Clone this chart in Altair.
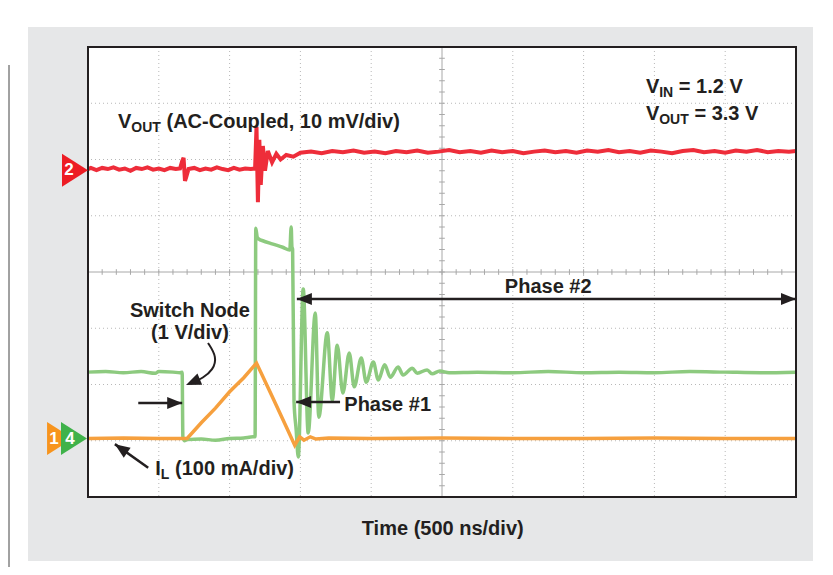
import altair as alt
import pandas as pd

# ---------------- trace data (time in divisions, amplitude in divisions) ----------------
red = [(0.00, 5.83), (0.04, 5.85), (0.12, 5.81), (0.20, 5.85), (0.28, 5.83), (0.36, 5.86),
       (0.44, 5.82), (0.52, 5.84), (0.60, 5.80), (0.68, 5.85), (0.76, 5.83), (0.84, 5.86),
       (0.92, 5.82), (1.00, 5.84), (1.08, 5.81), (1.16, 5.85), (1.24, 5.83), (1.30, 5.84),
       (1.33, 5.97), (1.35, 6.03), (1.37, 5.62), (1.39, 5.70), (1.42, 5.83), (1.50, 5.85),
       (1.58, 5.81), (1.66, 5.84), (1.74, 5.82), (1.82, 5.86), (1.90, 5.83), (1.98, 5.81),
       (2.06, 5.85), (2.14, 5.82), (2.22, 5.84), (2.30, 5.83), (2.36, 5.84), (2.38, 6.58),
       (2.40, 5.24), (2.42, 6.35), (2.44, 5.55), (2.47, 6.24), (2.50, 5.80), (2.54, 6.15),
       (2.60, 5.95), (2.66, 6.10), (2.72, 6.00), (2.80, 6.08), (2.90, 6.05), (3.00, 6.12),
       (3.15, 6.14), (3.30, 6.11), (3.45, 6.15), (3.60, 6.13), (3.75, 6.16), (3.90, 6.12),
       (4.05, 6.14), (4.20, 6.11), (4.35, 6.15), (4.50, 6.13), (4.65, 6.16), (4.80, 6.12),
       (4.95, 6.14), (5.10, 6.17), (5.25, 6.13), (5.40, 6.15), (5.55, 6.12), (5.70, 6.16),
       (5.85, 6.13), (6.00, 6.15), (6.15, 6.11), (6.30, 6.14), (6.45, 6.16), (6.60, 6.13),
       (6.75, 6.15), (6.90, 6.12), (7.05, 6.16), (7.20, 6.14), (7.35, 6.17), (7.50, 6.13),
       (7.65, 6.15), (7.80, 6.12), (7.95, 6.16), (8.10, 6.14), (8.25, 6.11), (8.40, 6.15),
       (8.55, 6.17), (8.70, 6.13), (8.85, 6.15), (9.00, 6.12), (9.15, 6.16), (9.30, 6.14),
       (9.45, 6.17), (9.60, 6.13), (9.75, 6.15), (9.90, 6.14), (10.0, 6.15)]

green = [(0.00, 2.22), (0.25, 2.23), (0.50, 2.21), (0.75, 2.23), (0.95, 2.20), (1.00, 2.23),
         (1.20, 2.22), (1.30, 2.21), (1.33, 2.22), (1.34, 1.07), (1.36, 1.00), (1.40, 1.02),
         (1.60, 1.03), (1.80, 1.01), (2.00, 1.04), (2.20, 1.05), (2.33, 1.07), (2.36, 1.07),
         (2.37, 4.78), (2.39, 4.62), (2.42, 4.58), (2.46, 4.56), (2.60, 4.50), (2.75, 4.44),
         (2.85, 4.39), (2.87, 4.80), (2.88, 4.45), (2.89, 4.40), (2.91, 1.70), (2.94, 1.20),
         (2.97, 0.71), (3.04, 3.70), (3.11, 1.14), (3.21, 3.27), (3.26, 1.42), (3.38, 2.92),
         (3.45, 1.72), (3.52, 2.70), (3.60, 1.85), (3.69, 2.56), (3.76, 1.96), (3.86, 2.47),
         (3.93, 2.04), (4.03, 2.40), (4.10, 2.08), (4.19, 2.35), (4.27, 2.13), (4.38, 2.31),
         (4.45, 2.17), (4.58, 2.29), (4.65, 2.20), (4.79, 2.26), (4.86, 2.19), (4.97, 2.24),
         (5.10, 2.21), (5.50, 2.22), (6.00, 2.21), (6.50, 2.23), (7.00, 2.21), (7.50, 2.22),
         (8.00, 2.21), (8.50, 2.23), (9.00, 2.22), (9.50, 2.21), (10.0, 2.22)]

orange = [(0.00, 1.04), (0.50, 1.05), (1.00, 1.04), (1.40, 1.04), (1.60, 1.32), (1.80, 1.58),
          (2.00, 1.87), (2.20, 2.12), (2.38, 2.38), (2.60, 1.79), (2.80, 1.25), (2.92, 0.92),
          (2.99, 1.07), (3.05, 1.01), (3.14, 1.07), (3.22, 1.03), (3.40, 1.05), (4.00, 1.04),
          (5.00, 1.05), (6.00, 1.04), (7.00, 1.04), (8.00, 1.05), (9.00, 1.04), (10.0, 1.04)]

# channel markers: (label, time position, level)
markers = [("1", -0.395, 1.04, "#f7941d"), ("4", -0.198, 1.04, "#3fb24a"), ("2", -0.184, 5.81, "#ed1c24")]
marker_labels = [("1", -0.48, 1.04), ("4", -0.254, 1.04), ("2", -0.268, 5.81)]

# grid
grid_x = [1, 2, 3, 4, 6, 7, 8, 9]
grid_y = [1, 2, 3, 5, 6, 7]

# arrows: (t1, v1, t2 tip, v2 tip)
straight_arrows = [(3.56, 1.69, 2.94, 1.69), (0.71, 1.67, 1.33, 1.67), (0.85, 0.52, 0.38, 0.94)]
double_arrow = (2.95, 10.0, 3.52)
curve_arrow = [(1.695, 2.738), (1.822, 2.489), (1.766, 2.258), (1.624, 2.116), (1.469, 2.027)]
heads = [(2.94, 1.69, 180), (1.33, 1.67, 0), (0.38, 0.94, 215), (2.95, 3.52, 180),
         (10.0, 3.52, 0), (1.384, 1.991, 157)]

INK = "#231f20"
FONT = "Liberation Sans"
XS = alt.Scale(domain=[0, 10], nice=False, zero=False)
YS = alt.Scale(domain=[0, 8], nice=False, zero=False)


def X(f="t"):
    return alt.X(f"{f}:Q", scale=XS, axis=None)


def Y(f="v"):
    return alt.Y(f"{f}:Q", scale=YS, axis=None)


one = pd.DataFrame({"a": [0]})

bg = alt.Chart(one).mark_rect(color="#e6e7e8").encode(
    x=alt.value(-60), x2=alt.value(725), y=alt.value(-20), y2=alt.value(514))
leftline = alt.Chart(one).mark_rule(color="#444444", strokeWidth=1).encode(
    x=alt.value(-79), y=alt.value(18), y2=alt.value(530))
plotbg = alt.Chart(one).mark_rect(color="white").encode(
    x=alt.value(0), x2=alt.value(708), y=alt.value(0), y2=alt.value(450))

gx = alt.Chart(pd.DataFrame({"t": grid_x})).mark_rule(
    color="#b8b8b8", strokeDash=[1, 3], strokeWidth=1).encode(x=X())
gy = alt.Chart(pd.DataFrame({"v": grid_y})).mark_rule(
    color="#b8b8b8", strokeDash=[1, 3], strokeWidth=1).encode(y=Y())
cx = alt.Chart(pd.DataFrame({"t": [5]})).mark_rule(color="#a8a8a8", strokeWidth=1).encode(x=X())
cy = alt.Chart(pd.DataFrame({"v": [4]})).mark_rule(color="#a8a8a8", strokeWidth=1).encode(y=Y())
tick_t = [i / 5 for i in range(1, 50)]
tick_v = [i / 5 for i in range(1, 40)]
tx = alt.Chart(pd.DataFrame({"t": tick_t, "v": [3.95] * len(tick_t), "v2": [4.05] * len(tick_t)})).mark_rule(
    color="#a8a8a8", strokeWidth=1).encode(x=X(), y=Y(), y2="v2:Q")
ty = alt.Chart(pd.DataFrame({"v": tick_v, "t": [4.96] * len(tick_v), "t2": [5.04] * len(tick_v)})).mark_rule(
    color="#a8a8a8", strokeWidth=1).encode(y=Y(), x=X(), x2="t2:Q")


def trace(pts, color, width, interp="linear"):
    df = pd.DataFrame({"t": [p[0] for p in pts], "v": [p[1] for p in pts], "i": range(len(pts))})
    return alt.Chart(df).mark_line(color=color, strokeWidth=width, interpolate=interp).encode(
        x=X(), y=Y(), order="i:Q")


tr_green = trace(green, "#8dca7f", 3.5, "monotone")
tr_orange = trace(orange, "#f6a03e", 3.5)
tr_red = trace(red, "#ee2d3a", 4)

frame = alt.Chart(one).mark_rect(filled=False, stroke=INK, strokeWidth=2).encode(
    x=alt.value(0), x2=alt.value(708), y=alt.value(0), y2=alt.value(450))

TRI = "M-1,-1.27L1,0L-1,1.27Z"
mk = alt.Chart(pd.DataFrame({"c": [m[0] for m in markers], "t": [m[1] for m in markers],
                             "v": [m[2] for m in markers], "col": [m[3] for m in markers],
                             "i": range(len(markers))})).mark_point(
    shape=TRI, size=676, filled=True, opacity=1, strokeWidth=0).encode(
    x=X(), y=Y(), color=alt.Color("col:N", scale=None), order="i:Q")
mk_text = alt.Chart(pd.DataFrame({"c": [m[0] for m in marker_labels], "t": [m[1] for m in marker_labels],
                                  "v": [m[2] for m in marker_labels]})).mark_text(
    font=FONT, fontWeight="bold", fontSize=17, color="white", baseline="middle", align="center").encode(
    x=X(), y=Y(), text="c:N")

arr_df = pd.DataFrame({"t": [a[0] for a in straight_arrows], "v": [a[1] for a in straight_arrows],
                       "t2": [a[2] for a in straight_arrows], "v2": [a[3] for a in straight_arrows]})
arrows = alt.Chart(arr_df).mark_rule(color=INK, strokeWidth=2.5).encode(
    x=X(), y=Y(), x2="t2:Q", y2="v2:Q")
darrow = alt.Chart(pd.DataFrame({"t": [double_arrow[0]], "t2": [double_arrow[1]], "v": [double_arrow[2]]})).mark_rule(
    color=INK, strokeWidth=2.5).encode(x=X(), x2="t2:Q", y=Y())
curve = alt.Chart(pd.DataFrame({"t": [p[0] for p in curve_arrow], "v": [p[1] for p in curve_arrow],
                                "i": range(len(curve_arrow))})).mark_line(
    color=INK, strokeWidth=2, interpolate="basis").encode(x=X(), y=Y(), order="i:Q")
HEAD = "M0,0L-2,-0.8L-2,0.8Z"
hd = alt.Chart(pd.DataFrame({"t": [h[0] for h in heads], "v": [h[1] for h in heads],
                             "a": [h[2] for h in heads]})).mark_point(
    shape=HEAD, size=225, filled=True, opacity=1, color=INK, strokeWidth=0).encode(
    x=X(), y=Y(), angle=alt.Angle("a:Q", scale=None))


def label(t, v, txt, size, align="left", dx=0, dy=0):
    return alt.Chart(pd.DataFrame({"t": [t], "v": [v], "s": [txt]})).mark_text(
        font=FONT, fontWeight="bold", fontSize=size, align=align, baseline="alphabetic",
        dx=dx, dy=dy, color=INK).encode(x=X(), y=Y(), text="s:N")


texts = [
    label(0.424, 6.56, "V", 20), label(0.424, 6.56, "OUT", 14, dx=13.3, dy=4),
    label(0.424, 6.56, "(AC-Coupled, 10 mV/div)", 20, dx=48.5),
    label(7.88, 7.18, "V", 20), label(7.88, 7.18, "IN", 14, dx=13.3, dy=4),
    label(7.88, 7.18, "= 1.2 V", 20, dx=32.9),
    label(7.88, 6.70, "V", 20), label(7.88, 6.70, "OUT", 14, dx=13.3, dy=4),
    label(7.88, 6.70, "= 3.3 V", 20, dx=48.5),
    label(6.50, 3.63, "Phase #2", 20, align="center"),
    label(1.44, 3.20, "Switch Node", 20, align="center"),
    label(1.44, 2.81, "(1 V/div)", 20, align="center"),
    label(3.62, 1.53, "Phase #1", 20),
    label(0.95, 0.39, "I", 20), label(0.95, 0.39, "L", 14, dx=5.6, dy=4),
    label(0.95, 0.39, "(100 mA/div)", 20, dx=19.8),
    label(5.01, -0.676, "Time (500 ns/div)", 20, align="center"),
]

chart = alt.layer(
    bg, leftline, plotbg, gx, gy, cx, cy, tx, ty,
    tr_green, tr_orange, tr_red, frame, mk, mk_text,
    arrows, darrow, curve, hd, *texts
).properties(
    width=708, height=450,
    padding={"left": 80, "top": 39, "right": 29, "bottom": 70},
    autosize=alt.AutoSizeParams(type="none"),
    background="white",
).configure_view(strokeWidth=0)

chart.save("out.html", embed_options={"renderer": "svg", "actions": False})
